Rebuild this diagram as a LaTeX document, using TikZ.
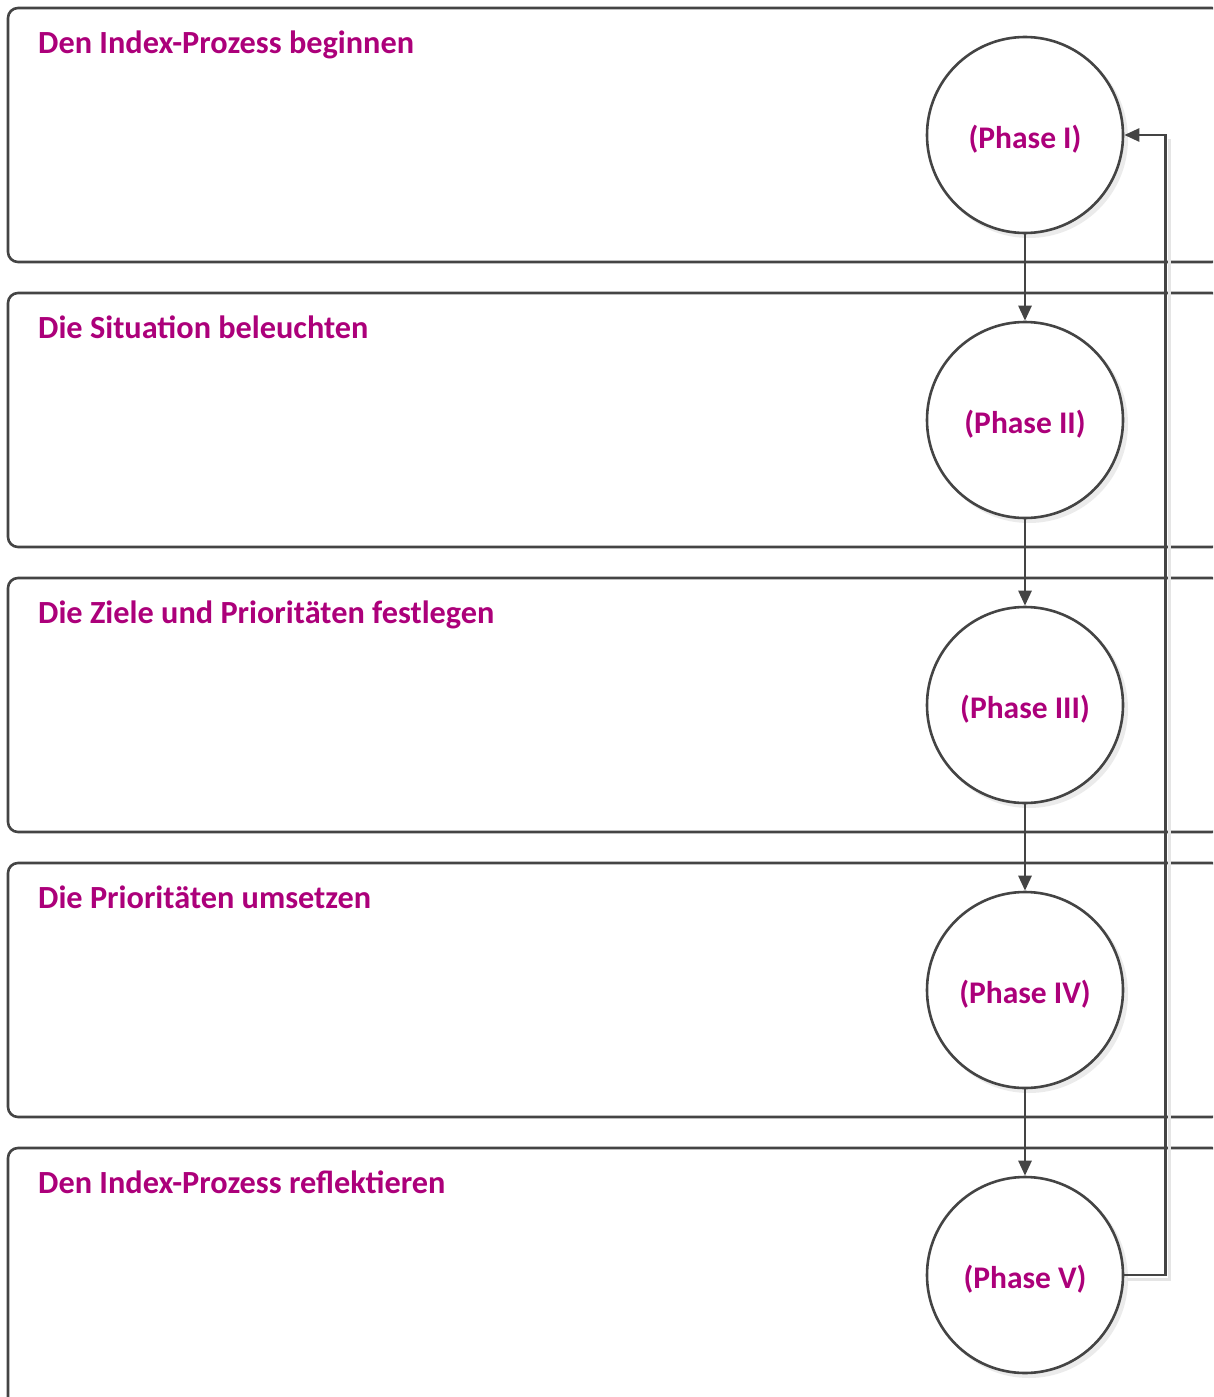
\documentclass[tikz,border=0pt]{standalone}
\usepackage{fontspec}
\setmainfont{Carlito}
\usetikzlibrary{arrows.meta}
\definecolor{mag}{RGB}{172,0,122}
\definecolor{ln}{RGB}{68,68,68}
\newcommand{\phtxt}[1]{\raisebox{-4pt}[\height][\depth]{#1}}
\tikzset{
  lane/.style={draw=ln, line width=2.6pt, rounded corners=10pt},
  phase/.style={circle, draw=ln, line width=2.6pt, fill=white, minimum size=196pt, inner sep=0pt,
    font=\fontsize{31.5}{36}\selectfont\bfseries, text=mag},
  title/.style={anchor=base west, font=\fontsize{32.3}{36}\selectfont\bfseries, text=mag, inner sep=0pt},
  conn/.style={draw=ln, line width=2.6pt, -{Triangle[length=15pt,width=13pt]}},
  shade/.style={draw=black!10, line width=3pt},
}
\begin{document}
\begin{tikzpicture}[x=1pt,y=-1pt]
\useasboundingbox (0,0) rectangle (1213,1397);
\begin{scope}
\clip (0,0) rectangle (1213,1397);
\draw[lane] (8,8) rectangle (1222,262);
\draw[lane] (8,293) rectangle (1222,547);
\draw[lane] (8,578) rectangle (1222,832);
\draw[lane] (8,863) rectangle (1222,1117);
\draw[lane] (8,1148) rectangle (1222,1410);
\end{scope}
\node[title] (t1) at (38,53) {Den Index-Prozess beginnen};
\node[title] (t2) at (38,338) {Die Situation beleuchten};
\node[title] (t3) at (38,623) {Die Ziele und Prioritäten festlegen};
\node[title] (t4) at (38,908) {Die Prioritäten umsetzen};
\node[title] (t5) at (38,1193) {Den Index-Prozess reflektieren};
% shadows
\foreach \yy in {135,420,705,990,1275}{
  \fill[black!8] (1029,\yy+4) circle (99);
}
\draw[shade] (1127,1279) -- (1169,1279) -- (1169,139);
% circles
\node[phase] (p1) at (1025,135) {\phtxt{(Phase I)}};
\node[phase] (p2) at (1025,420) {\phtxt{(Phase II)}};
\node[phase] (p3) at (1025,705) {\phtxt{(Phase III)}};
\node[phase] (p4) at (1025,990) {\phtxt{(Phase IV)}};
\node[phase] (p5) at (1025,1275) {\phtxt{(Phase V)}};
\coordinate (r) at (1165.5,0);
\draw[conn] (p1) -- (p2);
\draw[conn] (p2) -- (p3);
\draw[conn] (p3) -- (p4);
\draw[conn] (p4) -- (p5);
\draw[conn] (p5.east) -| (r |- p5.east) -- (r |- p1.east) -- (p1.east);
\end{tikzpicture}
\end{document}
